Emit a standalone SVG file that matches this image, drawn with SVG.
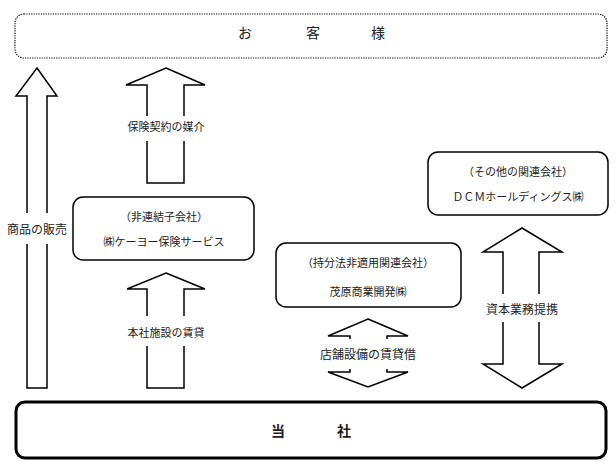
<svg xmlns="http://www.w3.org/2000/svg" width="616" height="469" viewBox="0 0 616 469">
<style>
.box{fill:#fff;stroke:#000;stroke-width:1.5}
.arrow{fill:#fff;stroke:#000;stroke-width:1.5;stroke-linejoin:miter}
.gap{fill:#fff;stroke:none}
.t{font-family:"Noto Sans CJK JP","Noto Sans",sans-serif;font-size:11px;fill:#222;text-anchor:middle}
.lbl{font-family:"Noto Sans CJK JP","Noto Sans",sans-serif;font-size:12px;fill:#222;text-anchor:middle}
.big{font-family:"Noto Sans CJK JP","Noto Sans",sans-serif;font-size:14px;fill:#222;text-anchor:middle}
</style>
<rect width="616" height="469" fill="#fff"/>
<g id="customers">
<rect x="15" y="14" width="592" height="44" rx="9" fill="#fff" stroke="#000" stroke-width="1.2" stroke-dasharray="1.2 1.2"/>
<text class="big" x="245" y="38">お</text>
<text class="big" x="313" y="38">客</text>
<text class="big" x="378" y="38">様</text>
</g>
<g id="connectors">
<polygon class="arrow" points="37,68 57,96 47,96 47,388 27,388 27,96 16,96"/>
<rect class="gap" x="20" y="213" width="34" height="31"/>
<text class="lbl" x="37" y="234">商品の販売</text>
<polygon class="arrow" points="166,68 205,85 184,85 184,183 147,183 147,85 126,85"/>
<rect class="gap" x="140" y="116" width="50" height="25"/>
<text class="t" x="166" y="131">保険契約の媒介</text>
<polygon class="arrow" points="166,273 205,289 184,289 184,388 147,388 147,289 127,289"/>
<rect class="gap" x="140" y="316" width="50" height="30"/>
<text class="t" x="166" y="337">本社施設の賃貸</text>
<polygon class="arrow" points="368,319 408,336 387,336 387,372 408,372 368,387 328,372 350,372 350,336 328,336"/>
<rect class="gap" x="340" y="339" width="56" height="30"/>
<text class="lbl" x="368" y="359">店舗設備の賃貸借</text>
<polygon class="arrow" points="522,228 562,252 539,252 539,364 562,364 522,388 483,364 503,364 503,252 483,252"/>
<rect class="gap" x="495" y="294" width="52" height="28"/>
<text class="lbl" x="522" y="314">資本業務提携</text>
</g>
<g id="keiyo-hoken">
<rect class="box" x="73" y="197" width="181" height="63" rx="10"/>
<text class="t" x="164" y="221">（非連結子会社）</text>
<text class="t" x="164" y="246">㈱ケーヨー保険サービス</text>
</g>
<g id="mobara">
<rect class="box" x="276" y="243" width="185" height="64" rx="10"/>
<text class="t" x="368" y="267">（持分法非適用関連会社）</text>
<text class="t" x="368" y="296">茂原商業開発㈱</text>
</g>
<g id="dcm">
<rect class="box" x="428" y="152" width="180" height="63" rx="10"/>
<text class="t" x="518" y="176">（その他の関連会社）</text>
<text class="t" x="518" y="201">ＤＣＭホールディングス㈱</text>
</g>
<g id="company">
<rect x="16" y="402" width="590" height="56" rx="9" fill="#fff" stroke="#000" stroke-width="3"/>
<text class="big" x="278" y="436" font-weight="bold">当</text>
<text class="big" x="344" y="436" font-weight="bold">社</text>
</g>
</svg>
